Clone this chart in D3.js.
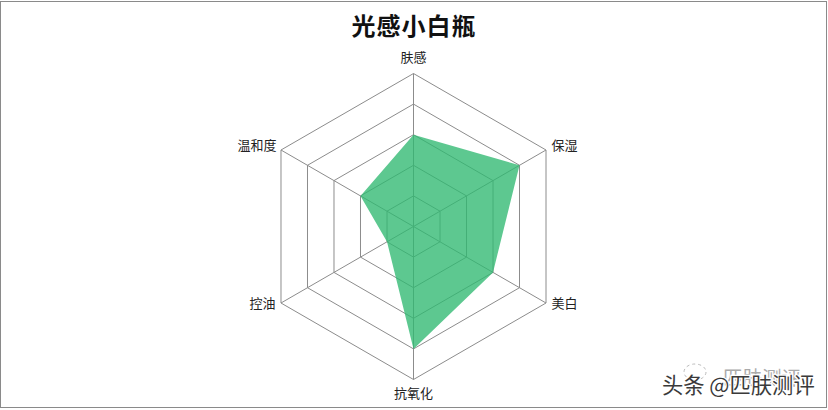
<!DOCTYPE html>
<html><head><meta charset="utf-8">
<script src="https://cdn.jsdelivr.net/npm/d3@7/dist/d3.min.js"></script>
<style>html,body{margin:0;padding:0;background:#fff}svg{display:block}text{font-family:"Noto Sans CJK SC",sans-serif}</style>
</head><body><svg id="c" width="828" height="410"></svg>
<script>
const categories=["肤感","保湿","美白","抗氧化","控油","温和度"];
const values=[3,4,3,4,1,2];
const ringTicks=[1,2,3,4,5];
const title="光感小白瓶";
const svg=d3.select("#c");
svg.append("rect").attr("x",0.5).attr("y",1.5).attr("width",826).attr("height",406).attr("fill","#fff").attr("stroke","#8a8a8a").attr("stroke-width",1);
const cx=413.5,cy=226.5;
const r=d3.scaleLinear().domain([0,5]).range([0,153]);
const ang=d3.scalePoint().domain(categories).range([0,2*Math.PI*5/6]);
const line=d3.lineRadial().angle(d=>d[0]).radius(d=>d[1]).curve(d3.curveLinearClosed);
const g=svg.append("g").attr("transform",`translate(${cx},${cy})`);
ringTicks.forEach(t=>g.append("path").attr("d",line(categories.map(c=>[ang(c),r(t)]))).attr("fill","none").attr("stroke","#8c8c8c").attr("stroke-width",1));
categories.forEach(c=>{const a=ang(c);g.append("line").attr("x1",0).attr("y1",0).attr("x2",r(5)*Math.sin(a)).attr("y2",-r(5)*Math.cos(a)).attr("stroke","#8c8c8c");});
g.append("path").attr("d",line(categories.map((c,i)=>[ang(c),r(values[i])]))).attr("fill","#2fb871").attr("fill-opacity",0.78);
const labelPos={"肤感":["middle",0,-169],"保湿":["start",138,-81],"美白":["start",138,77],"抗氧化":["middle",0,167],"控油":["end",-138,77],"温和度":["end",-137,-81]};
categories.forEach(c=>{const p=labelPos[c];g.append("text").attr("x",p[1]).attr("y",p[2]+4.5).attr("text-anchor",p[0]).attr("font-size",13).attr("fill","#222").text(c);});
svg.append("text").attr("x",414).attr("y",35).attr("text-anchor","middle").attr("font-size",24).attr("font-weight",700).attr("letter-spacing",1).attr("fill","#111").text(title);
// watermark
svg.append("ellipse").attr("cx",695).attr("cy",372).attr("rx",11).attr("ry",8).attr("fill","none").attr("stroke","#bbb").attr("stroke-dasharray","3 3");
svg.append("text").attr("x",723).attr("y",385).attr("font-size",19.5).attr("fill","#aaa").text("匹肤测评");
svg.append("text").attr("x",662).attr("y",393).attr("font-size",21.3).attr("fill","#3a3a3a").attr("stroke","#fff").attr("stroke-width",2.5).attr("paint-order","stroke").text("头条 @匹肤测评");
</script></body></html>
